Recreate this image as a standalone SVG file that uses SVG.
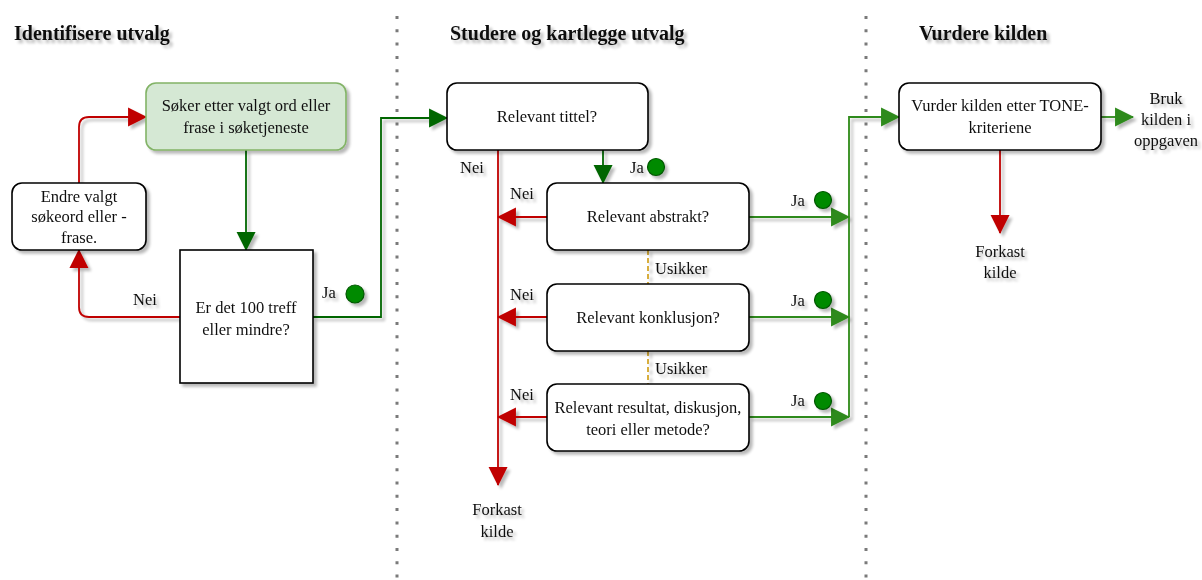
<svg xmlns="http://www.w3.org/2000/svg" width="1202" height="580" viewBox="0 0 1202 580">
  <style>
    text { font-family: "Liberation Serif", "Times New Roman", serif; font-size: 16.5px; fill: #111; }
    .title { font-size: 20px; font-weight: bold; }
    .mid { text-anchor: middle; }
    .box { fill: #ffffff; stroke: #000000; stroke-width: 1.6; }
    .start { fill: #d5e8d4; stroke: #82b366; stroke-width: 1.6; }
    .red { fill: none; stroke: #c00000; stroke-width: 1.8; }
    .dkgreen { fill: none; stroke: #006600; stroke-width: 1.8; }
    .green { fill: none; stroke: #2d8a1a; stroke-width: 1.8; }
    .unsure { fill: none; stroke: #d4a62a; stroke-width: 1.8; stroke-dasharray: 5 3; }
    .divider { fill: none; stroke: #7a7a7a; stroke-width: 3; stroke-dasharray: 3 10.3; }
    .dot { fill: #008a00; stroke: #005700; stroke-width: 1.2; }
  </style>
  <defs>
    <filter id="shadow" x="-10%" y="-10%" width="130%" height="140%">
      <feGaussianBlur in="SourceAlpha" stdDeviation="1.6"/>
      <feOffset dx="2.5" dy="3" result="off"/>
      <feComponentTransfer><feFuncA type="linear" slope="0.28"/></feComponentTransfer>
      <feMerge><feMergeNode/><feMergeNode in="SourceGraphic"/></feMerge>
    </filter>
    <marker id="arrRed" viewBox="0 0 10 10" refX="9" refY="5" markerWidth="10" markerHeight="10" markerUnits="userSpaceOnUse" orient="auto" overflow="visible">
      <path d="M0,0 L10,5 L0,10 z" fill="#c00000" transform="scale(1.9) translate(-4.7,-2.4)"/>
    </marker>
    <marker id="arrDk" viewBox="0 0 10 10" refX="9" refY="5" markerWidth="10" markerHeight="10" markerUnits="userSpaceOnUse" orient="auto" overflow="visible">
      <path d="M0,0 L10,5 L0,10 z" fill="#006600" transform="scale(1.9) translate(-4.7,-2.4)"/>
    </marker>
    <marker id="arrGr" viewBox="0 0 10 10" refX="9" refY="5" markerWidth="10" markerHeight="10" markerUnits="userSpaceOnUse" orient="auto" overflow="visible">
      <path d="M0,0 L10,5 L0,10 z" fill="#2d8a1a" transform="scale(1.9) translate(-4.7,-2.4)"/>
    </marker>
  </defs>

  <rect width="1202" height="580" fill="#ffffff"/>

  <!-- column dividers -->
  <g id="dividers">
    <line class="divider" x1="397" y1="16" x2="397" y2="580"/>
    <line class="divider" x1="866" y1="16" x2="866" y2="580"/>
  </g>

  <!-- column headings -->
  <g id="headings" filter="url(#shadow)">
    <text class="title" x="14" y="40">Identifisere utvalg</text>
    <text class="title" x="450" y="40">Studere og kartlegge utvalg</text>
    <text class="title" x="919" y="40">Vurdere kilden</text>
  </g>

  <!-- connectors -->
  <g id="connectors" filter="url(#shadow)">
    <!-- search -> count check -->
    <path class="dkgreen" d="M246,150 V250" marker-end="url(#arrDk)"/>
    <!-- count check: no -> change search term -->
    <path class="red" d="M180,317 H89 Q79,317 79,307 V250" marker-end="url(#arrRed)"/>
    <!-- change search term -> search -->
    <path class="red" d="M79,183 V127 Q79,117 89,117 H146" marker-end="url(#arrRed)"/>
    <!-- count check: yes -> title -->
    <path class="dkgreen" d="M313,317 H381 V118 H447" marker-end="url(#arrDk)"/>
    <!-- title: yes -> abstract -->
    <path class="dkgreen" d="M603,150 V183" marker-end="url(#arrDk)"/>
    <!-- discard trunk -->
    <path class="red" d="M498,150 V485" marker-end="url(#arrRed)"/>
    <!-- no branches -->
    <path class="red" d="M547,217 H498" marker-end="url(#arrRed)"/>
    <path class="red" d="M547,317 H498" marker-end="url(#arrRed)"/>
    <path class="red" d="M547,417 H498" marker-end="url(#arrRed)"/>
    <!-- yes branches -->
    <path class="green" d="M749,217 H849" marker-end="url(#arrGr)"/>
    <path class="green" d="M749,317 H849" marker-end="url(#arrGr)"/>
    <path class="green" d="M749,417 H849" marker-end="url(#arrGr)"/>
    <path class="green" d="M849,417 V117 H899" marker-end="url(#arrGr)"/>
    <!-- unsure links -->
    <path class="unsure" d="M648,250 V284"/>
    <path class="unsure" d="M648,351 V384"/>
    <!-- evaluation outcomes -->
    <path class="green" d="M1101,117 H1133" marker-end="url(#arrGr)"/>
    <path class="red" d="M1000,150 V233" marker-end="url(#arrRed)"/>
  </g>

  <!-- connector labels -->
  <g id="labels" filter="url(#shadow)">
    <text x="133" y="305">Nei</text>
    <text x="322" y="298">Ja</text>
    <circle class="dot" cx="355" cy="294" r="9"/>
    <text x="460" y="173">Nei</text>
    <text x="630" y="173">Ja</text>
    <circle class="dot" cx="656" cy="167" r="8.5"/>
    <text x="510" y="199">Nei</text>
    <text x="791" y="206">Ja</text>
    <circle class="dot" cx="823" cy="200" r="8.5"/>
    <text x="655" y="274">Usikker</text>
    <text x="510" y="300">Nei</text>
    <text x="791" y="306">Ja</text>
    <circle class="dot" cx="823" cy="300" r="8.5"/>
    <text x="655" y="374">Usikker</text>
    <text x="510" y="400">Nei</text>
    <text x="791" y="406">Ja</text>
    <circle class="dot" cx="823" cy="401" r="8.5"/>
    <text class="mid" x="497" y="515">Forkast</text>
    <text class="mid" x="497" y="537">kilde</text>
    <text class="mid" x="1000" y="257">Forkast</text>
    <text class="mid" x="1000" y="278">kilde</text>
    <text class="mid" x="1166" y="104">Bruk</text>
    <text class="mid" x="1166" y="125">kilden i</text>
    <text class="mid" x="1166" y="146">oppgaven</text>
  </g>

  <!-- nodes -->
  <g id="node-search" filter="url(#shadow)">
    <rect class="start" x="146" y="83" width="200" height="67" rx="10"/>
    <text class="mid" x="246" y="111">Søker etter valgt ord eller</text>
    <text class="mid" x="246" y="133">frase i søketjeneste</text>
  </g>
  <g id="node-change" filter="url(#shadow)">
    <rect class="box" x="12" y="183" width="134" height="67" rx="10"/>
    <text class="mid" x="79" y="202">Endre valgt</text>
    <text class="mid" x="79" y="222">søkeord eller -</text>
    <text class="mid" x="79" y="243">frase.</text>
  </g>
  <g id="node-count" filter="url(#shadow)">
    <rect class="box" x="180" y="250" width="133" height="133"/>
    <text class="mid" x="246" y="313">Er det 100 treff</text>
    <text class="mid" x="246" y="335">eller mindre?</text>
  </g>
  <g id="node-title" filter="url(#shadow)">
    <rect class="box" x="447" y="83" width="201" height="67" rx="10"/>
    <text class="mid" x="547" y="122">Relevant tittel?</text>
  </g>
  <g id="node-abstract" filter="url(#shadow)">
    <rect class="box" x="547" y="183" width="202" height="67" rx="10"/>
    <text class="mid" x="648" y="222">Relevant abstrakt?</text>
  </g>
  <g id="node-conclusion" filter="url(#shadow)">
    <rect class="box" x="547" y="284" width="202" height="67" rx="10"/>
    <text class="mid" x="648" y="323">Relevant konklusjon?</text>
  </g>
  <g id="node-results" filter="url(#shadow)">
    <rect class="box" x="547" y="384" width="202" height="67" rx="10"/>
    <text class="mid" x="648" y="413">Relevant resultat, diskusjon,</text>
    <text class="mid" x="648" y="435">teori eller metode?</text>
  </g>
  <g id="node-tone" filter="url(#shadow)">
    <rect class="box" x="899" y="83" width="202" height="67" rx="10"/>
    <text class="mid" x="1000" y="111">Vurder kilden etter TONE-</text>
    <text class="mid" x="1000" y="133">kriteriene</text>
  </g>
</svg>
